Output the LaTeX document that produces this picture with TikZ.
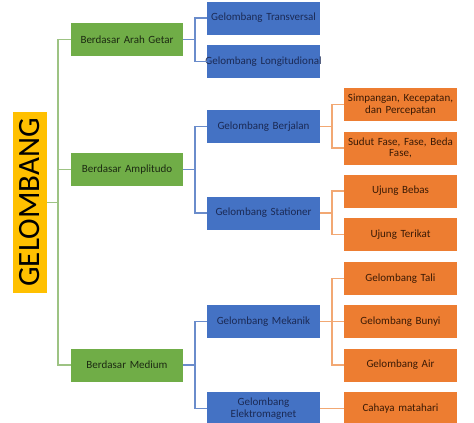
\documentclass[tikz,border=0pt]{standalone}
\usepackage{fontspec}
\setmainfont{Carlito}
\definecolor{gGreen}{HTML}{70AD47}
\definecolor{gBlue}{HTML}{4472C4}
\definecolor{gOrange}{HTML}{ED7D31}
\definecolor{gGold}{HTML}{FFC000}
\definecolor{lGreen}{HTML}{9DC383}
\definecolor{lBlue}{HTML}{6A8CCB}
\definecolor{lOrange}{HTML}{F2A873}
\definecolor{tGreen}{HTML}{1C2A12}
\definecolor{tBlue}{HTML}{1B2A55}
\definecolor{tOrange}{HTML}{3A1A05}
\tikzset{
  box/.style={rectangle, inner sep=0pt, minimum width=113pt, minimum height=33pt, text width=111pt, align=center, font=\fontsize{11}{12.5}\selectfont},
  gbox/.style={box, fill=gGreen, text=tGreen, minimum width=112pt},
  bbox/.style={box, fill=gBlue, text=tBlue},
  obox/.style={box, fill=gOrange, text=tOrange},
  gline/.style={draw=lGreen, line width=1.6pt},
  bline/.style={draw=lBlue, line width=1.6pt},
  oline/.style={draw=lOrange, line width=1.6pt},
}
\begin{document}
\begin{tikzpicture}[x=1pt,y=-1pt]
\useasboundingbox (0,0) rectangle (474,423);
\clip (0,0) rectangle (474,423);
% root
\node[rectangle, fill=gGold, minimum width=34pt, minimum height=181pt, inner sep=0pt] (G) at (30,202.5) {};
\node[rotate=90, font=\fontsize{31}{31}\selectfont, text=black] (Gt) at (G.center) {GELOMBANG};
% green
\node[gbox] (arah) at (127,39.5) {Berdasar Arah Getar};
\node[gbox] (amp) at (127,169.5) {Berdasar Amplitudo};
\node[gbox] (med) at (127,365) {Berdasar Medium};
% blue
\node[bbox] (tra) at (263.5,18) {Gelombang Transversal};
\node[bbox] (lon) at (263.5,61.5) {\makebox[111pt][c]{Gelombang Longitudional}};
\node[bbox] (ber) at (263.5,126.5) {Gelombang Berjalan};
\node[bbox] (sta) at (263.5,213) {Gelombang Stationer};
\node[bbox] (mek) at (263.5,321.5) {Gelombang Mekanik};
\node[bbox] (ele) at (263.5,408.5) {Gelombang\\[-1pt] Elektromagnet};
% orange
\node[obox] (sim) at (400.5,104.5) {Simpangan, Kecepatan,\\[-1pt] dan Percepatan};
\node[obox] (sud) at (400.5,148) {Sudut Fase, Fase, Beda\\[-1pt] Fase,};
\node[obox] (beb) at (400.5,191) {Ujung Bebas};
\node[obox] (ter) at (400.5,234.5) {Ujung Terikat};
\node[obox] (tal) at (400.5,278.5) {Gelombang Tali};
\node[obox] (bun) at (400.5,321.5) {Gelombang Bunyi};
\node[obox] (air) at (400.5,365) {Gelombang Air};
\node[obox] (cah) at (400.5,408.5) {Cahaya matahari};
% connectors
\foreach \c in {arah,amp,med} \draw[gline] (G.east) -- ++(11,0) |- (\c.west);
\foreach \c in {tra,lon} \draw[bline] (arah.east) -- ++(12,0) |- (\c.west);
\foreach \c in {ber,sta} \draw[bline] (amp.east) -- ++(12,0) |- (\c.west);
\foreach \c in {mek,ele} \draw[bline] (med.east) -- ++(12,0) |- (\c.west);
\foreach \c in {sim,sud} \draw[oline] (ber.east) -- ++(12,0) |- (\c.west);
\foreach \c in {beb,ter} \draw[oline] (sta.east) -- ++(12,0) |- (\c.west);
\foreach \c in {tal,bun,air} \draw[oline] (mek.east) -- ++(12,0) |- (\c.west);
\draw[oline] (ele.east) -- (cah.west);
\end{tikzpicture}
\end{document}
